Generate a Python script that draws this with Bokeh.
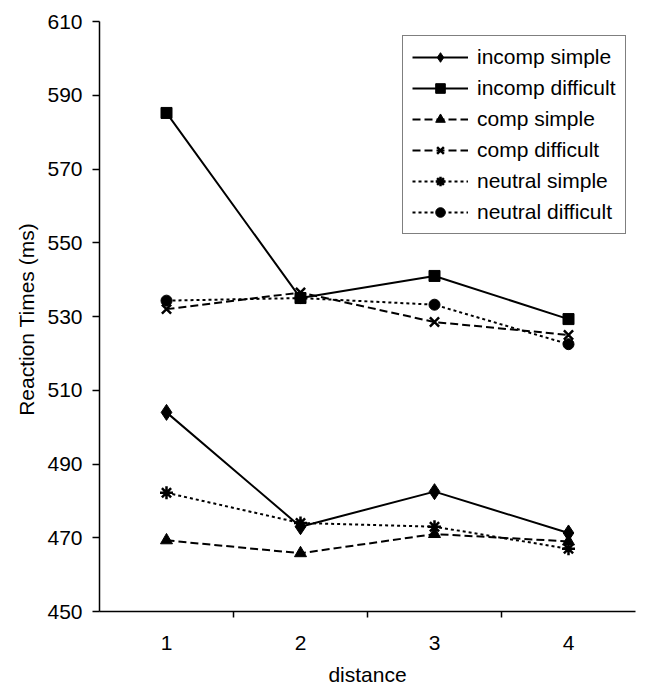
from bokeh.plotting import figure
from bokeh.models import FixedTicker, Legend, LegendItem, Range1d
from bokeh.embed import file_html
from bokeh.resources import INLINE

distance = [1, 2, 3, 4]
x_tick_labels = ["1", "2", "3", "4"]
y_ticks = [450, 470, 490, 510, 530, 550, 570, 590, 610]

incomp_simple = [504, 473, 482.5, 471.3]
incomp_difficult = [585.2, 535, 541, 529.3]
comp_simple = [469.3, 465.8, 471.0, 469.0]
comp_difficult = [532, 536.5, 528.5, 525]
neutral_simple = [482.2, 474, 473, 467]
neutral_difficult = [534.3, 535, 533.2, 522.5]

series = [
    ("incomp simple", incomp_simple, "solid", "diamond", 16),
    ("incomp difficult", incomp_difficult, "solid", "square", 11),
    ("comp simple", comp_simple, "8 4", "triangle", 12),
    ("comp difficult", comp_difficult, "8 4", "x", 13),
    ("neutral simple", neutral_simple, "3 3", "asterisk", 13),
    ("neutral difficult", neutral_difficult, "3 3", "circle", 11),
]

FONT = "Liberation Sans"
FS = "21px"

p = figure(width=640, height=690, output_backend="svg", toolbar_location=None,
           x_range=Range1d(0.5, 4.5), y_range=Range1d(450, 610),
           min_border_left=99, min_border_top=21, min_border_right=5,
           min_border_bottom=79)
p.outline_line_color = None
p.background_fill_color = "white"
p.border_fill_color = "white"
p.grid.visible = False

items = []
for name, vals, dash, marker, size in series:
    r1 = p.line(distance, vals, line_color="black", line_width=2, line_dash=dash)
    kw = dict(size=size, line_color="black", fill_color="black")
    if marker in ("x", "asterisk"):
        kw["line_width"] = 2.5
    else:
        kw["line_width"] = 1
    r2 = p.scatter(distance, vals, marker=marker, **kw)
    items.append(LegendItem(label=name, renderers=[r1, r2]))

legend = Legend(items=items, location=(303, 377))
legend.border_line_color = "black"
legend.border_line_width = 1.5
legend.background_fill_alpha = 1
legend.label_text_font = FONT
legend.label_text_font_size = FS
legend.label_text_color = "black"
legend.glyph_width = 56
legend.glyph_height = 24
legend.label_height = 24
legend.spacing = 7
legend.padding = 9
legend.label_standoff = 9
legend.margin = 0
p.add_layout(legend, "center")

# y axis
p.yaxis.ticker = FixedTicker(ticks=y_ticks)
p.yaxis.major_tick_out = 7
p.yaxis.major_tick_in = 0
p.yaxis.minor_tick_line_color = None
p.yaxis.major_label_standoff = 10
p.yaxis.major_label_text_font = FONT
p.yaxis.major_label_text_font_size = FS
p.yaxis.major_label_text_color = "black"
p.yaxis.axis_line_color = "black"
p.yaxis.axis_line_width = 1.5
p.yaxis.major_tick_line_color = "black"
p.yaxis.major_tick_line_width = 1.5
p.yaxis.axis_label = "Reaction Times  (ms)"
p.yaxis.axis_label_text_font = FONT
p.yaxis.axis_label_text_font_size = FS
p.yaxis.axis_label_text_font_style = "normal"
p.yaxis.axis_label_text_color = "black"
p.yaxis.axis_label_standoff = 6

# x axis
p.xaxis.ticker = FixedTicker(ticks=distance, minor_ticks=[1.5, 2.5, 3.5])
p.xaxis.major_label_overrides = {d: s for d, s in zip(distance, x_tick_labels)}
p.xaxis.major_tick_line_color = None
p.xaxis.major_tick_out = 6
p.xaxis.major_tick_in = 0
p.xaxis.minor_tick_line_color = "black"
p.xaxis.minor_tick_out = 6
p.xaxis.minor_tick_in = 0
p.xaxis.minor_tick_line_width = 1.5
p.xaxis.major_label_standoff = 18
p.xaxis.major_label_text_font = FONT
p.xaxis.major_label_text_font_size = FS
p.xaxis.major_label_text_color = "black"
p.xaxis.axis_line_color = "black"
p.xaxis.axis_line_width = 1.5
p.xaxis.axis_label = "distance"
p.xaxis.axis_label_text_font = FONT
p.xaxis.axis_label_text_font_size = FS
p.xaxis.axis_label_text_font_style = "normal"
p.xaxis.axis_label_text_color = "black"
p.xaxis.axis_label_standoff = 10

open("out.html", "w").write(file_html(p, INLINE))
